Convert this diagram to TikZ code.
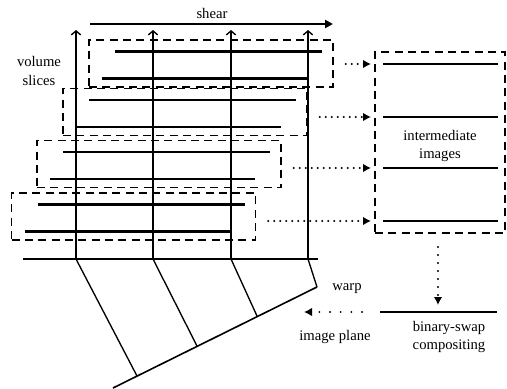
\documentclass[tikz,border=0pt]{standalone}
\usepackage{fontspec}
\setmainfont{Liberation Serif}
\usetikzlibrary{arrows.meta,positioning}

\begin{document}
\begin{tikzpicture}[x=0.75pt,y=-0.75pt,
font=\fontsize{11}{14}\selectfont,
slab/.style={draw, line width=1.1pt, dash pattern=on 6pt off 4pt, minimum width=183pt, minimum height=35.5pt, inner sep=0pt},
slice/.style={line width=1.7pt},
ray/.style={line width=1pt, -{Straight Barb[length=3pt,width=7pt,line width=1pt]}},
hop/.style={line width=1.6pt, line cap=round, dash pattern=on 0pt off 4.5pt, -{Latex[length=6pt,width=6.5pt]}},
label/.style={align=center, inner sep=0pt}
]
\useasboundingbox (0,0) rectangle (507,389);

% staggered volume slabs
\foreach \n/\cx/\cy/\ay in {1/211/63.5/64, 2/185/112/117, 3/159/164/168, 4/133.5/216.5/221}{
  \node[slab] (slab\n) at (\cx,\cy) {};
  \draw[slice] (\cx-96,\cy-12) -- (\cx+111,\cy-12);
  \draw[slice] (\cx-109,\cy+15) -- (\cx+96,\cy+15);
  \coordinate (img\n) at (375,\ay);
}

% intermediate images
\node[slab, minimum width=97.5pt, minimum height=135.75pt] (inter) at (440,142.5) {};
\foreach \n in {1,...,4}
  \draw[slice] ([xshift=6pt]img\n) -- ++(115,0);
\node[label] (intertext) at (440,146) {intermediate\\images};
\foreach \n in {1,...,4}
  \draw[hop] ([xshift=9pt]slab\n.east |- img\n) -- ([xshift=-3pt]img\n);

% base line and rays
\coordinate (base west) at (23,259);
\coordinate (base east) at (318,259);
\draw[slice] (base west) -- (base east);
\foreach \n/\x in {1/76,2/153,3/231,4/308}{
  \coordinate (b\n) at (\x,259);
  \draw[ray] (b\n) -- (\x,30);
}
\draw[slice, -{Triangle[length=6pt,width=6pt]}] (90,24) coordinate (shear west) -- (333,24) coordinate (shear east);
\node[label] (shear) at (212,13) {shear};
\node[label] (volume) at (39,71) {volume\\slices};

% warp onto the image plane
\coordinate (plane west) at (113,388);
\coordinate (plane east) at (317,287);
\draw[line width=1.2pt] (plane west) -- (plane east);
\foreach \n/\x/\y in {1/137/376,2/197/346,3/257/316,4/317/287}{
  \coordinate (w\n) at (\x,\y);
  \draw[line width=1pt] (b\n) -- (w\n);
}

% compositing
\coordinate (comp west) at (380,312);
\coordinate (comp east) at (497,312);
\draw[slice] (comp west) -- (comp east);
\node[label] (binary) at (449,337) {binary-swap\\compositing};
\draw[hop, dash pattern=on 0pt off 6pt] (438,247) -- (438,305);
\draw[hop, dash pattern=on 0pt off 8pt] (362,312) -- (304,312);
\node[label] (warp) at (347,289) {warp};
\node[label] (plane) at (335,337) {image plane};
\end{tikzpicture}
\end{document}
